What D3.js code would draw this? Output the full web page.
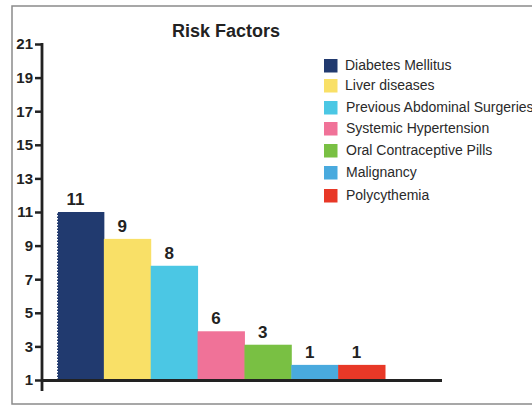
<!DOCTYPE html>
<html>
<head>
<meta charset="utf-8">
<script src="https://cdn.jsdelivr.net/npm/d3@7"></script>
<style>
  body { margin: 0; background: #fff; }
  text { font-family: "Liberation Sans", Arial, sans-serif; }
</style>
</head>
<body>
<div id="chart"></div>
<script>
// data (bar heights do not always match the printed labels)
var categories = ["Diabetes Mellitus", "Liver diseases", "Previous Abdominal Surgeries",
                  "Systemic Hypertension", "Oral Contraceptive Pills", "Malignancy", "Polycythemia"];
var barValues = [11, 9.4, 7.8, 3.9, 3.1, 1.9, 1.9];
var barLabels = ["11", "9", "8", "6", "3", "1", "1"];
var colors = ["#213a6f", "#f9e067", "#4bc7e4", "#f07298", "#79c043", "#49aade", "#e83827"];
var yTicks = [1, 3, 5, 7, 9, 11, 13, 15, 17, 19, 21];

var W = 532, H = 405;

var svg = d3.select("#chart")
            .append("svg")
            .attr("width", W)
            .attr("height", H);

// frame
svg.append("rect")
    .attr("x", 12).attr("y", 6)
    .attr("width", W + 10).attr("height", 398)
    .attr("fill", "none")
    .attr("stroke", "#8a8a8a")
    .attr("stroke-width", 1.5);

var y = d3.scaleLinear()
        .domain([1, 21])
        .range([380, 44]);

var x = d3.scaleBand()
        .domain(categories)
        .range([57, 385])
        .padding(0);

// bars
svg.append("g")
    .selectAll("rect")
    .data(barValues)
    .enter()
    .append("rect")
    .attr("x", (d, i) => x(categories[i]))
    .attr("y", d => y(d))
    .attr("width", x.bandwidth() + 0.5)
    .attr("height", d => y(1) - y(d))
    .style("fill", (d, i) => colors[i]);

// dotted edge on first bar
svg.append("line")
    .attr("x1", x(categories[0]) + 0.5).attr("x2", x(categories[0]) + 0.5)
    .attr("y1", y(barValues[0])).attr("y2", y(1))
    .attr("stroke", "#fff")
    .attr("stroke-width", 1)
    .attr("stroke-dasharray", "1.5,1.5");

// bar labels
svg.append("g")
    .selectAll("text")
    .data(barValues)
    .enter()
    .append("text")
    .attr("x", (d, i) => x(categories[i]) + x.bandwidth() / 2 - 5)
    .attr("y", d => y(d) - 7)
    .attr("text-anchor", "middle")
    .style("font-size", "17px")
    .style("font-weight", "bold")
    .style("fill", "#222")
    .text((d, i) => barLabels[i]);

// y axis
var yAxis = d3.axisLeft(y).tickValues(yTicks).tickSize(7).tickPadding(2);
var gy = svg.append("g")
    .attr("transform", "translate(42,0)")
    .call(yAxis);
gy.select(".domain").remove();
gy.selectAll(".tick line").attr("stroke", "#222").attr("stroke-width", 2.5);
gy.selectAll(".tick text")
    .style("font-size", "15px")
    .style("font-weight", "bold")
    .style("font-family", "'Liberation Sans', Arial, sans-serif")
    .attr("fill", "#222");

svg.append("line")
    .attr("x1", 42).attr("x2", 42)
    .attr("y1", y(21) - 1).attr("y2", 391)
    .attr("stroke", "#222").attr("stroke-width", 2.8);

// x axis line
svg.append("line")
    .attr("x1", 41).attr("x2", 442)
    .attr("y1", y(1) + 0.5).attr("y2", y(1) + 0.5)
    .attr("stroke", "#222").attr("stroke-width", 3);

// title
svg.append("text")
    .attr("x", 226).attr("y", 37)
    .attr("text-anchor", "middle")
    .style("font-size", "18px")
    .style("font-weight", "bold")
    .style("fill", "#222")
    .text("Risk Factors");

// legend
var legendY = [59, 79, 101, 122, 144, 166, 189];
var legend = svg.append("g")
    .selectAll("g")
    .data(categories)
    .enter()
    .append("g")
    .attr("transform", (d, i) => "translate(324," + legendY[i] + ")");

legend.append("rect")
    .attr("width", 13.5).attr("height", 13.5)
    .style("fill", (d, i) => colors[i]);

legend.append("text")
    .attr("x", (d, i) => i < 2 ? 21 : 22)
    .attr("y", 11)
    .style("font-size", "14px")
    .style("fill", "#2a2a2a")
    .text(d => d);
</script>
</body>
</html>
